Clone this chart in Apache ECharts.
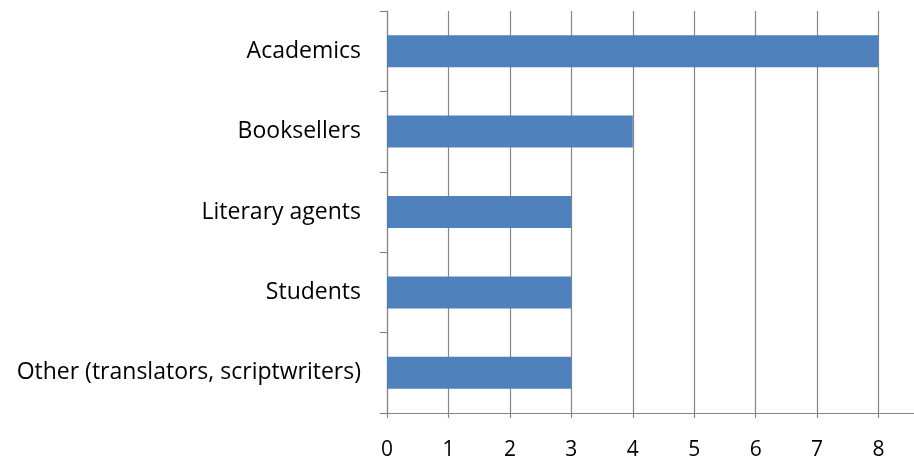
<!DOCTYPE html>
<html>
<head>
<meta charset="utf-8">
<script src="https://cdn.jsdelivr.net/npm/echarts@6/dist/echarts.min.js"></script>
<style>
html, body { margin: 0; padding: 0; background: #fff; }
#chart { width: 914px; height: 458px; }
</style>
</head>
<body>
<div id="chart"></div>
<script>
var categories = ['Academics', 'Booksellers', 'Literary agents', 'Students', 'Other (translators, scriptwriters)'];
var values = [8, 4, 3, 3, 3];

var axisGray = '#868686';
var fontFamily = 'Open Sans';

var chart = echarts.init(document.getElementById('chart'));
chart.setOption({
    animation: false,
    grid: {
        left: 387,
        top: 11,
        bottom: 45,
        right: -26,
        containLabel: false,
        outerBoundsMode: 'none'
    },
    xAxis: {
        type: 'value',
        min: 0,
        max: 9,
        interval: 1,
        axisLine: {show: true, lineStyle: {color: axisGray, width: 1.2}},
        axisTick: {show: true, length: 5, lineStyle: {color: axisGray, width: 1.2}},
        splitLine: {show: true, lineStyle: {color: axisGray, width: 1.2}},
        axisLabel: {
            color: '#000',
            fontSize: 21,
            fontFamily: fontFamily,
            margin: 27
        }
    },
    yAxis: {
        type: 'category',
        inverse: true,
        data: categories,
        axisLine: {show: true, lineStyle: {color: axisGray, width: 1.2}},
        axisTick: {show: true, length: 7, lineStyle: {color: axisGray, width: 1.2}},
        axisLabel: {
            color: '#000',
            fontSize: 23,
            fontFamily: fontFamily,
            margin: 26
        }
    },
    series: [{
        type: 'bar',
        data: values,
        barWidth: 32,
        itemStyle: {color: '#4F81BD'}
    }]
});
</script>
</body>
</html>
